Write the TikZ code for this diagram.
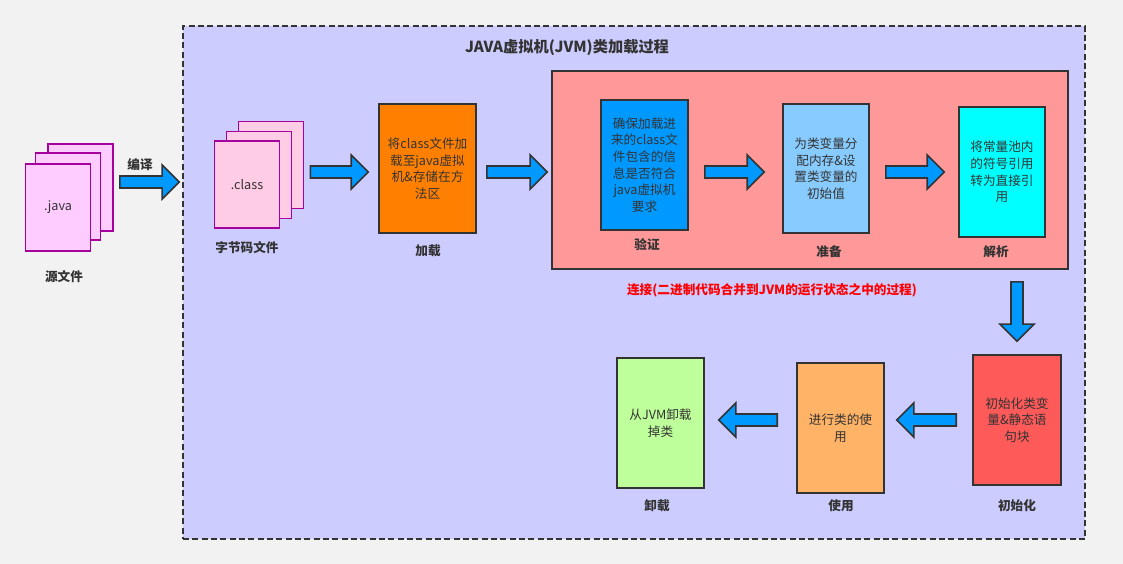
\documentclass[tikz,border=0pt]{standalone}
\usepackage{fontspec}
\setmainfont{Noto Sans CJK SC}
\usepackage{xcolor}
\usepackage{tikz}
\usetikzlibrary{calc,positioning}

\definecolor{bggray}{HTML}{F2F2F2}
\definecolor{jvmlilac}{HTML}{CCCCFF}
\definecolor{linkpink}{HTML}{FF9999}
\definecolor{pagepurple}{HTML}{A6009F}
\definecolor{srcpink}{HTML}{FFCCFF}
\definecolor{clspink}{HTML}{FFCCE6}
\definecolor{loadorange}{HTML}{FF8000}
\definecolor{verifyblue}{HTML}{0099FF}
\definecolor{prepblue}{HTML}{88CCFF}
\definecolor{rescyan}{HTML}{00FFFF}
\definecolor{initred}{HTML}{FF5A5A}
\definecolor{useorange}{HTML}{FFB366}
\definecolor{unloadgreen}{HTML}{BFFF9B}
\definecolor{inkgray}{HTML}{333333}

% block arrow from #1 to #2
\newcommand{\blockarrow}[2]{%
  \path (#1) coordinate (ba-s) (#2) coordinate (ba-t);
  \coordinate (ba-h) at ($(ba-t)!0.51cm!(ba-s)$);
  \draw[bigarrow] ($(ba-s)!0.18cm!90:(ba-t)$) -- ($(ba-h)!0.18cm!90:(ba-t)$)
    -- ($(ba-h)!0.51cm!90:(ba-t)$) -- (ba-t) -- ($(ba-h)!0.51cm!-90:(ba-t)$)
    -- ($(ba-h)!0.18cm!-90:(ba-t)$) -- ($(ba-s)!0.18cm!-90:(ba-t)$) -- cycle;}

\begin{document}
\begin{tikzpicture}[
  x=0.03cm, y=-0.03cm,
  stage/.style={rectangle, draw=inkgray, line width=1.4pt, text=inkgray,
                font=\fontsize{10.8}{14.2}\selectfont, align=center, inner sep=2pt},
  page/.style={rectangle, draw=pagepurple, line width=1.4pt, text=inkgray,
               font=\fontsize{10.8}{14.2}\selectfont,
               minimum width=1.95cm, minimum height=2.6cm},
  caption/.style={font=\fontsize{10.8}{14.2}\selectfont\bfseries, text=inkgray},
  bigarrow/.style={draw=inkgray, fill=verifyblue, line width=1.4pt, line join=miter}
]
  \useasboundingbox (0,0) rectangle (1123,564);
  \fill[bggray] (0,0) rectangle (1123,564);

  \node[rectangle, draw=inkgray, fill=jvmlilac, line width=1.4pt,
        dash pattern=on 0.18cm off 0.1cm,
        minimum width=27.06cm, minimum height=15.39cm] (frame) at (634,282.5) {};
  \node[caption, font=\fontsize{13}{16}\selectfont\bfseries] (title) at (567,48)
    {JAVA虚拟机(JVM)类加载过程};

  \node[rectangle, draw=inkgray, fill=linkpink, line width=1.4pt,
        minimum width=15.48cm, minimum height=5.94cm] (link) at (810,170) {};

  % source files
  \node[page, fill=srcpink] (src3) at (80.5,187.5) {};
  \node[page, fill=srcpink] (src2) at (68,196.5) {};
  \node[page, fill=srcpink] (src1) at (58,207.5) {.java};
  \node[caption] (srclabel) at (64,277) {源文件};
  \node[caption] (compile) at (140,165) {编译};

  % class files
  \node[page, fill=clspink] (cls3) at (271,165) {};
  \node[page, fill=clspink] (cls2) at (259,175) {};
  \node[page, fill=clspink] (cls1) at (247,184.5) {.class};
  \node[caption] (clslabel) at (247,248) {字节码文件};

  \node[stage, fill=loadorange, minimum width=2.91cm, minimum height=3.87cm] (load)
    at (427.5,168.5) {将class文件加\\载至java虚拟\\机\&存储在方\\法区};
  \node[caption] (loadlabel) at (428,251) {加载};

  \node[stage, fill=verifyblue, minimum width=2.61cm, minimum height=3.9cm] (verify)
    at (644.5,165) {确保加载进\\来的class文\\件包含的信\\息是否符合\\java虚拟机\\要求};
  \node[caption] (verifylabel) at (647,245) {验证};

  \node[stage, fill=prepblue, minimum width=2.58cm, minimum height=3.87cm] (prepare)
    at (826,168.5) {为类变量分\\配内存\&设\\置类变量的\\初始值};
  \node[caption] (preparelabel) at (829,252) {准备};

  \node[stage, fill=rescyan, minimum width=2.58cm, minimum height=3.9cm] (resolve)
    at (1002,172) {将常量池内\\的符号引用\\转为直接引\\用};
  \node[caption] (resolvelabel) at (996,252) {解析};

  \node[caption, text=red] (linklabel) at (772,290) {连接(二进制代码合并到JVM的运行状态之中的过程)};

  \node[stage, fill=initred, minimum width=2.64cm, minimum height=3.9cm] (init)
    at (1017,420) {初始化类变\\量\&静态语\\句块};
  \node[caption] (initlabel) at (1017,506) {初始化};

  \node[stage, fill=useorange, minimum width=2.61cm, minimum height=3.9cm] (use)
    at (840.5,428) {进行类的使\\用};
  \node[caption] (uselabel) at (841,506) {使用};

  \node[stage, fill=unloadgreen, minimum width=2.61cm, minimum height=3.9cm] (unload)
    at (660.5,423) {从JVM卸载\\掉类};
  \node[caption] (unloadlabel) at (657,506) {卸载};

  \blockarrow{$(src3.east)+(6,-5.5)$}{$(frame.west |- src3.east)+(-3,-5.5)$}
  \blockarrow{$(cls3.east)+(6,7)$}{$(load.west)+(-10,3.5)$}
  \blockarrow{$(load.east)+(10,3.5)$}{$(link.west)+(-4,2)$}
  \blockarrow{$(verify.east)+(16,7)$}{$(prepare.west)+(-18,3.5)$}
  \blockarrow{$(prepare.east)+(16,3.5)$}{$(resolve.west)+(-14,0)$}
  \blockarrow{$(init.north |- link.south)+(0,12)$}{$(init.north)+(0,-13)$}
  \blockarrow{$(init.west)+(-16,0)$}{$(use.east)+(12,-8)$}
  \blockarrow{$(use.west)+(-19,-8)$}{$(unload.east)+(14,-3)$}
\end{tikzpicture}
\end{document}
